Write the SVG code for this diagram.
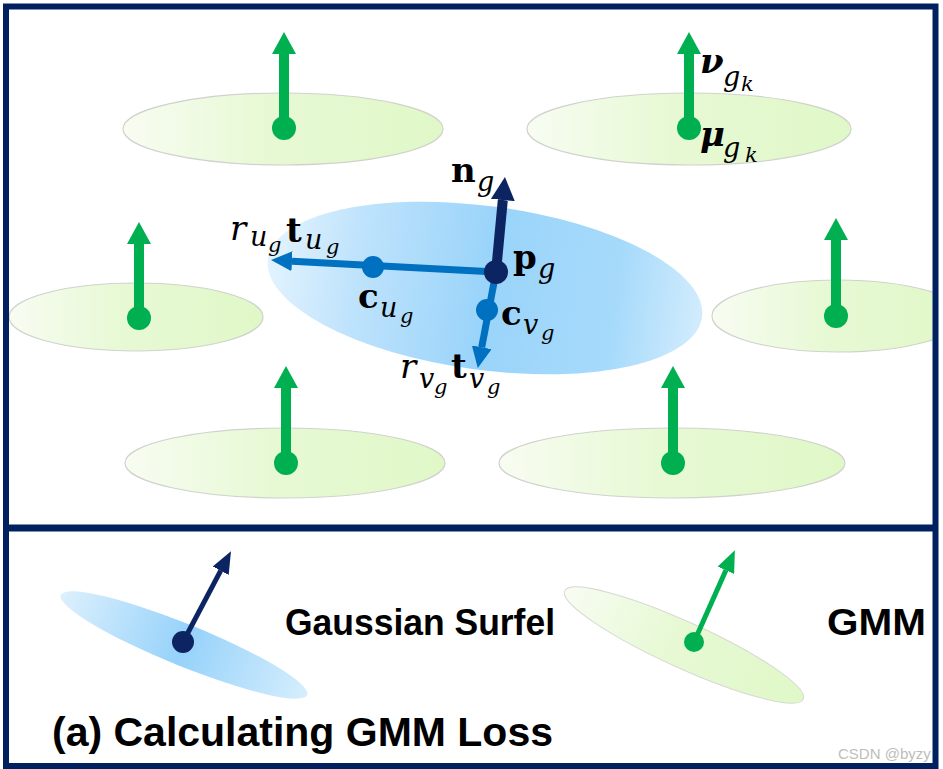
<svg xmlns="http://www.w3.org/2000/svg" width="943" height="769" viewBox="0 0 943 769">
<style>
.mb{font-family:"DejaVu Serif","Liberation Serif",serif;font-weight:bold;font-size:34px;fill:#000}
.mi{font-family:"DejaVu Serif","Liberation Serif",serif;font-style:italic;font-size:34px;fill:#000}
.mbi{font-family:"DejaVu Serif","Liberation Serif",serif;font-style:italic;font-weight:bold;font-size:34px;fill:#000}
.s1{font-family:"DejaVu Serif","Liberation Serif",serif;font-style:italic;font-size:27px;fill:#000}
.s2{font-family:"DejaVu Serif","Liberation Serif",serif;font-style:italic;font-size:21px;fill:#000}
.lab{font-family:"Liberation Sans",Arial,sans-serif;font-weight:bold;fill:#000}
.gell{fill:url(#gGrad);stroke:#cfd3cc;stroke-width:1.2}
.gsh{stroke:#00B050;stroke-width:10;fill:none}
.gdot{fill:#00B050}
.navy{fill:#0C2461}
.blue{fill:#0070C0}
</style>
<defs>
<clipPath id="inner"><rect x="9" y="9.5" width="923.5" height="515"/></clipPath>
<linearGradient id="gGrad" x1="0" y1="0" x2="1" y2="0">
<stop offset="0" stop-color="#F8FCF2"/>
<stop offset="0.45" stop-color="#E7F9D4"/>
<stop offset="1" stop-color="#E0F8C8"/>
</linearGradient>
<linearGradient id="bGrad" x1="0" y1="0" x2="1" y2="0">
<stop offset="0" stop-color="#E3F3FE"/>
<stop offset="0.2" stop-color="#BFE3FC"/>
<stop offset="0.5" stop-color="#9AD4FA"/>
<stop offset="0.8" stop-color="#A6DAFB"/>
<stop offset="1" stop-color="#D2ECFD"/>
</linearGradient>
<linearGradient id="bGrad2" x1="0" y1="0" x2="1" y2="0">
<stop offset="0" stop-color="#DDF0FD"/>
<stop offset="0.5" stop-color="#96D2FA"/>
<stop offset="1" stop-color="#D6EEFD"/>
</linearGradient>
<marker id="mGreen" markerUnits="userSpaceOnUse" viewBox="0 -12 22 24" markerWidth="22" markerHeight="24" refX="0" refY="0" orient="auto"><path d="M0,-12 L22,0 L0,12 Z" fill="#00B050"/></marker>
<marker id="mNavy" markerUnits="userSpaceOnUse" viewBox="0 -12 23 24" markerWidth="23" markerHeight="24" refX="0" refY="0" orient="auto"><path d="M0,-12 L23,0 L0,12 Z" fill="#0C2461"/></marker>
<marker id="mBlue" markerUnits="userSpaceOnUse" viewBox="0 -10 21 20" markerWidth="21" markerHeight="20" refX="0" refY="0" orient="auto"><path d="M0,-10 L21,0 L0,10 Z" fill="#0070C0"/></marker>
<marker id="mNavyS" markerUnits="userSpaceOnUse" viewBox="0 -9 22 18" markerWidth="22" markerHeight="18" refX="0" refY="0" orient="auto"><path d="M0,-9 L22,0 L0,9 Z" fill="#0C2461"/></marker>
<marker id="mGreenS" markerUnits="userSpaceOnUse" viewBox="0 -9 22 18" markerWidth="22" markerHeight="18" refX="0" refY="0" orient="auto"><path d="M0,-9 L22,0 L0,9 Z" fill="#00B050"/></marker>
</defs>
<rect x="0" y="0" width="943" height="769" fill="#fff"/>

<g clip-path="url(#inner)">
<!-- GMM components -->
<g id="gmm-top-left">
<ellipse class="gell" cx="283" cy="129" rx="160" ry="36"/>
<line class="gsh" x1="284" y1="128" x2="284" y2="54" marker-end="url(#mGreen)"/>
<circle class="gdot" cx="284" cy="128" r="12"/>
</g>
<g id="gmm-top-right">
<ellipse class="gell" cx="689" cy="129" rx="162" ry="36"/>
<line class="gsh" x1="689" y1="128" x2="689" y2="54" marker-end="url(#mGreen)"/>
<circle class="gdot" cx="689" cy="128" r="12"/>
<text class="mbi" x="700" y="73">ν</text><text class="s1" x="723" y="86">g</text><text class="s2" x="741" y="91">k</text>
<text class="mbi" x="700" y="146">μ</text><text class="s1" x="723" y="157">g</text><text class="s2" x="745" y="162">k</text>
</g>
<g id="gmm-mid-left">
<ellipse class="gell" cx="136" cy="317" rx="127" ry="34"/>
<line class="gsh" x1="139" y1="318" x2="139" y2="244" marker-end="url(#mGreen)"/>
<circle class="gdot" cx="139" cy="318" r="12"/>
</g>
<g id="gmm-mid-right">
<ellipse class="gell" cx="838" cy="316" rx="126" ry="36"/>
<line class="gsh" x1="836" y1="316" x2="836" y2="240" marker-end="url(#mGreen)"/>
<circle class="gdot" cx="836" cy="316" r="12"/>
</g>
<g id="gmm-bottom-left">
<ellipse class="gell" cx="285" cy="463" rx="160" ry="35"/>
<line class="gsh" x1="286" y1="463" x2="286" y2="388" marker-end="url(#mGreen)"/>
<circle class="gdot" cx="286" cy="463" r="12"/>
</g>
<g id="gmm-bottom-right">
<ellipse class="gell" cx="672" cy="463" rx="173" ry="35"/>
<line class="gsh" x1="673" y1="463" x2="673" y2="388" marker-end="url(#mGreen)"/>
<circle class="gdot" cx="673" cy="463" r="12"/>
</g>

<!-- Gaussian surfel -->
<g id="gaussian-surfel">
<ellipse cx="0" cy="0" rx="219" ry="82" fill="url(#bGrad)" transform="translate(485 288) rotate(7.6)"/>
<g id="connectors">
<line x1="496" y1="272" x2="292" y2="261.2" stroke="#0070C0" stroke-width="7" marker-end="url(#mBlue)"/>
<line x1="496" y1="272" x2="481.7" y2="347.3" stroke="#0070C0" stroke-width="7" marker-end="url(#mBlue)"/>
<line x1="496" y1="272" x2="502.8" y2="200" stroke="#0C2461" stroke-width="10" marker-end="url(#mNavy)"/>
</g>
<circle class="blue" cx="373" cy="267" r="11"/>
<circle class="blue" cx="487" cy="310" r="11"/>
<circle class="navy" cx="496" cy="272" r="12"/>
<text class="mb" x="451" y="182">n</text><text class="s1" x="477" y="191">g</text>
<text class="mb" x="513" y="269">p</text><text class="s1" x="538" y="278">g</text>
<text class="mi" x="230" y="240">r</text><text class="s1" x="250" y="246">u</text><text class="s2" x="268" y="252">g</text>
<text class="mb" x="286" y="242">t</text><text class="s1" x="305" y="249">u</text><text class="s2" x="326" y="254">g</text>
<text class="mb" x="358" y="308">c</text><text class="s1" x="380" y="317">u</text><text class="s2" x="400" y="323">g</text>
<text class="mb" x="501" y="325">c</text><text class="s1" x="523" y="334">v</text><text class="s2" x="541" y="340">g</text>
<text class="mi" x="400" y="378">r</text><text class="s1" x="419" y="388">v</text><text class="s2" x="434" y="394">g</text>
<text class="mb" x="451" y="378">t</text><text class="s1" x="469" y="388">v</text><text class="s2" x="487" y="394">g</text>
</g>
</g>

<!-- Legend -->
<g id="legend-surfel">
<ellipse cx="0" cy="0" rx="133" ry="21" fill="url(#bGrad2)" transform="translate(184 645) rotate(22.1)"/>
<line x1="183" y1="642" x2="220.7" y2="570.7" stroke="#0C2461" stroke-width="5" marker-end="url(#mNavyS)"/>
<circle class="navy" cx="183" cy="642" r="11"/>
<text class="lab" x="285" y="635" font-size="36" textLength="270" lengthAdjust="spacingAndGlyphs">Gaussian Surfel</text>
</g>
<g id="legend-gmm">
<ellipse cx="0" cy="0" rx="131" ry="23" fill="url(#gGrad)" stroke="#d6d9d2" stroke-width="1" transform="translate(684 645) rotate(24.4)"/>
<line x1="694" y1="642" x2="725.9" y2="570.3" stroke="#00B050" stroke-width="5" marker-end="url(#mGreenS)"/>
<circle class="gdot" cx="694" cy="642" r="10"/>
<text class="lab" x="827" y="635" font-size="36" textLength="99" lengthAdjust="spacingAndGlyphs">GMM</text>
</g>
<text class="lab" x="52" y="746" font-size="41" textLength="501" lengthAdjust="spacingAndGlyphs">(a) Calculating GMM Loss</text>
<text x="838" y="759" font-family="Liberation Sans,Arial,sans-serif" font-size="15" fill="#BDBDBD">CSDN @byzy</text>

<!-- Frame -->
<g id="frame" fill="none" stroke="#002060">
<rect x="6" y="6.5" width="929.5" height="759.5" stroke-width="6"/>
<line x1="6" y1="528" x2="935.5" y2="528" stroke-width="7"/>
</g>
</svg>
